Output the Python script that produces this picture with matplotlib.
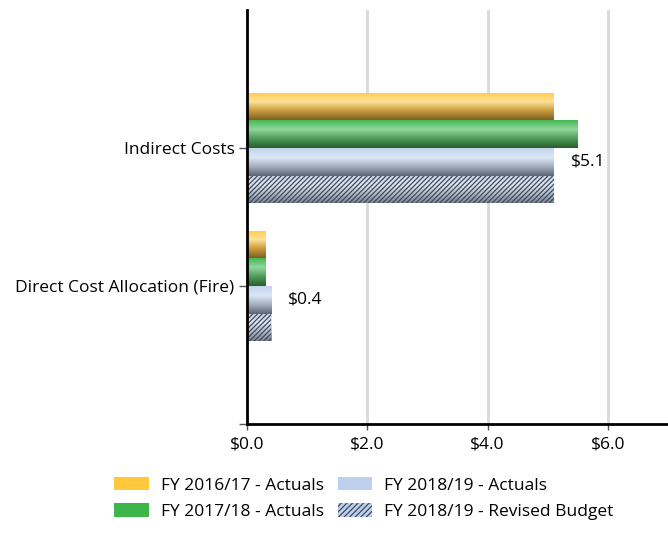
import numpy as np
import matplotlib.pyplot as plt
from matplotlib.colors import LinearSegmentedColormap
from matplotlib.patches import Patch

plt.rcParams['font.family'] = ['Open Sans', 'DejaVu Sans']
plt.rcParams['hatch.linewidth'] = 0.9

# --- Data ---
categories = ['Indirect Costs', 'Direct Cost Allocation (Fire)']
series_names = ['FY 2016/17 - Actuals', 'FY 2017/18 - Actuals',
                'FY 2018/19 - Actuals', 'FY 2018/19 - Revised Budget']
fy1617 = [5.1, 0.3]
fy1718 = [5.5, 0.3]
fy1819 = [5.1, 0.4]
fy1819_budget = [5.1, 0.4]
x_ticks = [0, 2, 4, 6]

series_values = [fy1617, fy1718, fy1819, fy1819_budget]
legend_colors = ['#FFC83D', '#3CB54A', '#BDD0EE', '#BDD0EE']
# gradients: top -> middle -> bottom
gradients = [
    ['#FFCB45', '#FFE29A', '#C89B3C', '#7E5F22'],
    ['#45BA55', '#92D69C', '#4E9A58', '#285F2F'],
    ['#C2D4EE', '#DCE6F4', '#A4AEBE', '#5C6676'],
    ['#C9D6E8', '#E2E8F2', '#B4BDCA', '#7A8595'],
]

fs = 12.5

fig = plt.figure(figsize=(6.68, 5.5), dpi=100)
ax = fig.add_axes([0.3698, 0.229, 0.6302, 0.753])

cat_pos = np.array([1, 2])
bar_h = 0.2
offsets = [-1.5, -0.5, 0.5, 1.5]

for i, vals in enumerate(series_values):
    ypos = cat_pos + offsets[i] * bar_h
    bars = ax.barh(ypos, vals, height=bar_h, color='none', edgecolor='none',
                   linewidth=0, zorder=3)
    cmap = LinearSegmentedColormap.from_list('g%d' % i, gradients[i])
    grad = np.linspace(0, 1, 64).reshape(-1, 1)
    for p in bars:
        x0, y0, w, h = p.get_x(), p.get_y(), p.get_width(), p.get_height()
        im = ax.imshow(grad, cmap=cmap, aspect='auto', zorder=2,
                       extent=[x0, x0 + w, y0 + h, y0], interpolation='bicubic')
        im.set_clip_path(p)
    if i == 3:
        ax.barh(ypos, vals, height=bar_h, color='none', edgecolor='#3E4A5C',
                linewidth=0, hatch='///////', zorder=4)
    if i == 2:
        for y, v in zip(ypos, vals):
            ax.annotate('$%.1f' % v, xy=(v, y), xytext=(12, 0),
                        textcoords='offset points', va='center', ha='left',
                        fontsize=fs)

ax.set_xlim(0, 7.0)
ax.set_ylim(3, 0)
ax.set_xticks(x_ticks)
ax.set_xticklabels(['$%.1f' % t for t in x_ticks], fontsize=fs)
ax.set_yticks([1, 2, 3])
ax.set_yticklabels(categories + [''], fontsize=fs)
ax.tick_params(axis='y', length=6, width=1, color='#555555', pad=3)
ax.tick_params(axis='x', length=4, width=1, color='#555555', pad=5)

ax.grid(axis='x', color='#D9D9D9', linewidth=2, zorder=0)
ax.set_axisbelow(True)
for s in ['top', 'right']:
    ax.spines[s].set_visible(False)
ax.spines['left'].set_linewidth(2)
ax.spines['bottom'].set_linewidth(2)
ax.spines['left'].set_zorder(5)

handles = [
    Patch(facecolor=legend_colors[0], edgecolor='none'),
    Patch(facecolor=legend_colors[1], edgecolor='none'),
    Patch(facecolor=legend_colors[2], edgecolor='none'),
    Patch(facecolor=legend_colors[3], edgecolor='#3E4A5C', linewidth=0, hatch='//////'),
]
fig.legend(handles, series_names, ncol=2, loc='lower left',
           bbox_to_anchor=(0.147, 0.026), frameon=False, fontsize=fs,
           handlelength=2.0, handleheight=0.8, columnspacing=0.8,
           labelspacing=0.55, handletextpad=0.7)

fig.savefig('out.png', dpi=100)
